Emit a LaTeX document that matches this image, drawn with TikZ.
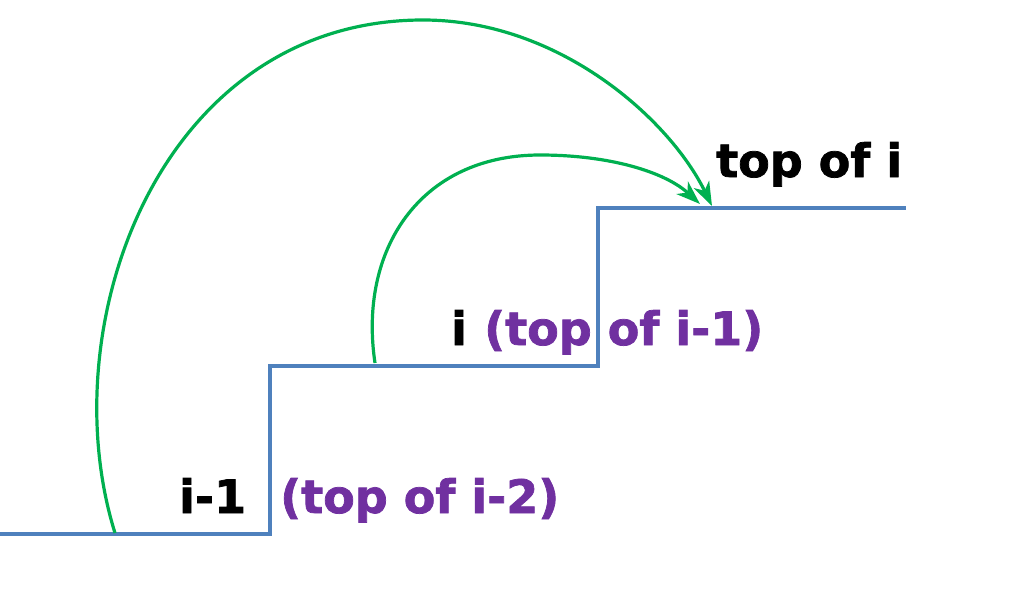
\documentclass[tikz,border=0pt]{standalone}
\usepackage{fontspec}
\setmainfont{DejaVu Sans}
\newfontfamily\heavyfont[FakeBold=1.6]{DejaVu Sans Bold}
\usetikzlibrary{arrows.meta}
\definecolor{stairblue}{HTML}{4F81BD}
\definecolor{arcgreen}{HTML}{00B050}
\definecolor{labelpurple}{HTML}{7030A0}
\tikzset{
  stair/.style={draw=stairblue, line width=3.5pt, line join=miter},
  jump/.style={draw=arcgreen, line width=3.2pt, -{Stealth[length=24pt,width=17pt,inset=7pt]}},
  lbl/.style={inner sep=0pt, anchor=base west, font=\fontsize{46}{50}\selectfont\heavyfont},
  blk/.style={lbl, text=black},
  prp/.style={lbl, text=labelpurple}
}
\begin{document}
\begin{tikzpicture}[x=1pt,y=-1pt]
\useasboundingbox (0,0) rectangle (1010,600);
% staircase corners
\coordinate (s0) at (0,534);
\coordinate (s1) at (270,534);
\coordinate (s2) at (270,366);
\coordinate (s3) at (598,366);
\coordinate (s4) at (598,208);
\coordinate (s5) at (906,208);
\draw[stair] (s0) -- (s1) -- (s2) -- (s3) -- (s4) -- (s5);
% arc end points
\coordinate (bigstart) at (115,533);
\coordinate (bigtop) at (423,20);
\coordinate (bigend) at (712,206);
\coordinate (smallstart) at (375,363);
\coordinate (smalltop) at (540,155);
\coordinate (smallend) at (700,204);
\draw[jump] (bigstart) .. controls (50,325) and (160,20) .. (bigtop)
  .. controls (560,20) and (670,120) .. (bigend);
\draw[jump] (smallstart) .. controls (358,250) and (420,155) .. (smalltop)
  .. controls (610,155) and (665,172) .. (smallend);
% labels
\node[blk] (topi) at (716,177) {top of i};
\node[blk] (ilabel) at (451,345) {i};
\node[prp] (topim1) at (484,345) {(top of i-1)};
\node[blk] (im1) at (179,513) {i-1};
\node[prp] (topim2) at (280,513) {(top of i-2)};
\end{tikzpicture}
\end{document}
